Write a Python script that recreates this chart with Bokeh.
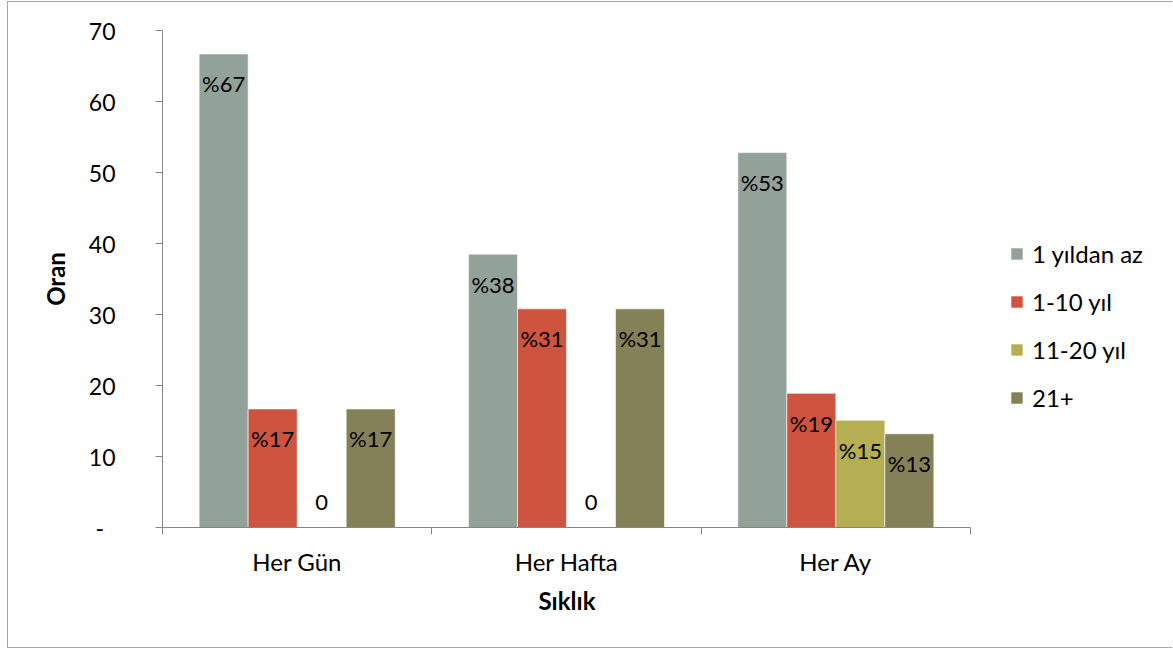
from bokeh.plotting import figure
from bokeh.models import (Range1d, FixedTicker, ColumnDataSource, Legend,
                          LegendItem, Title)
from bokeh.core.properties import value
from bokeh.embed import file_html
from bokeh.resources import INLINE

# Share of respondents (%) by frequency and years of experience
categories = ["Her Gün", "Her Hafta", "Her Ay"]
series_names = ["1 yıldan az", "1-10 yıl", "11-20 yıl", "21+"]
lt_1_year = [66.7, 38.5, 52.8]
years_1_10 = [16.7, 30.8, 18.9]
years_11_20 = [0.0, 0.0, 15.1]
years_21_plus = [16.7, 30.8, 13.2]
y_ticks = [0, 10, 20, 30, 40, 50, 60, 70]
y_tick_labels = ["-\u2002", "10", "20", "30", "40", "50", "60", "70"]

series_values = [lt_1_year, years_1_10, years_11_20, years_21_plus]
colors = ["#93A299", "#CF543F", "#B5AE53", "#848058"]

FONT = "Lato"
AXIS_COLOR = "#868686"
BAR_W = 0.182

# canvas layout (px): the bar area spans 808 px; the frame is widened so the
# legend can sit to its right, and the x axis is bounded to the bar area
W, H = 1165, 647
LEFT, RIGHT, TOP, BOTTOM = 154, 10, 28, 122
BAR_AREA_PX = 808
FRAME_PX = W - LEFT - RIGHT
X_TITLE_PX = 56  # approximate rendered width of the x axis title
n = len(categories)
x_end = n * FRAME_PX / BAR_AREA_PX

p = figure(width=W, height=H, output_backend="svg", toolbar_location=None,
           x_range=Range1d(0, x_end), y_range=Range1d(0, 70),
           min_border_left=LEFT, min_border_right=RIGHT,
           min_border_top=TOP, min_border_bottom=BOTTOM,
           tools="")
p.styles = {"margin-left": "7px", "margin-top": "1px",
            "border-left": "1px solid #A6A6A6",
            "border-top": "1px solid #A6A6A6",
            "border-bottom": "1px solid #A6A6A6"}
p.outline_line_color = None
p.grid.grid_line_color = None
p.background_fill_color = "white"
p.border_fill_color = "white"

items = []
for j, (name, vals, col) in enumerate(zip(series_names, series_values, colors)):
    xs = [i + 0.5 + (j - 1.5) * BAR_W for i in range(n)]
    labels = ["%" + f"{v:.0f}" if v > 0 else "0" for v in vals]
    offs = [30 if v > 0 else -25 for v in vals]
    src = ColumnDataSource(dict(x=xs, top=vals, label=labels, off=offs))
    r = p.vbar(x="x", top="top", width=BAR_W, bottom=0, source=src,
               fill_color=col, line_color="white", line_width=0.6)
    p.text(x="x", y="top", text="label", source=src, y_offset="off",
           text_align="center", text_baseline="middle",
           text_font=value(FONT), text_font_size="22px", text_color="black")
    items.append(LegendItem(label=name, renderers=[r]))

# y axis
ya = p.yaxis[0]
ya.ticker = FixedTicker(ticks=y_ticks)
ya.major_label_overrides = {t: s for t, s in zip(y_ticks, y_tick_labels)}
ya.major_tick_in = 0
ya.major_tick_out = 7
ya.major_label_standoff = 40
ya.axis_label = "Oran"
ya.axis_label_standoff = 16
ya.axis_label_text_font = FONT
ya.axis_label_text_font_size = "24px"
ya.axis_label_text_font_style = "bold"
ya.axis_label_text_color = "black"

# x axis: labels centred on each group, ticks on group boundaries
xa = p.xaxis[0]
xa.bounds = (0, n)
xa.ticker = FixedTicker(ticks=[i + 0.5 for i in range(n)],
                        minor_ticks=list(range(n + 1)))
xa.major_label_overrides = {i + 0.5: c for i, c in enumerate(categories)}
xa.minor_tick_in = 0
xa.minor_tick_out = 7
xa.major_label_standoff = 12

for ax in (xa, ya):
    ax.axis_line_color = AXIS_COLOR
    ax.major_tick_line_color = AXIS_COLOR if ax is ya else None
    ax.minor_tick_line_color = AXIS_COLOR if ax is xa else None
    ax.major_label_text_font = FONT
    ax.major_label_text_font_size = "23px"
    ax.major_label_text_color = "black"
xa.major_label_text_font_size = "24px"

# x axis title, centred under the bar area
p.add_layout(Title(text="Sıklık", align="left",
                   offset=BAR_AREA_PX / 2 - X_TITLE_PX / 2, standoff=10,
                   text_font=FONT, text_font_size="24px",
                   text_font_style="bold", text_color="black"), "below")

legend = Legend(items=items, location=(BAR_AREA_PX + 39, 115),
                orientation="vertical",
                border_line_color=None, background_fill_alpha=0,
                padding=0, margin=0, spacing=19,
                glyph_width=15, glyph_height=15, label_standoff=8,
                label_text_font=FONT, label_text_font_size="24px",
                label_text_color="black")
p.add_layout(legend, "center")

open("out.html", "w").write(file_html(p, INLINE))
